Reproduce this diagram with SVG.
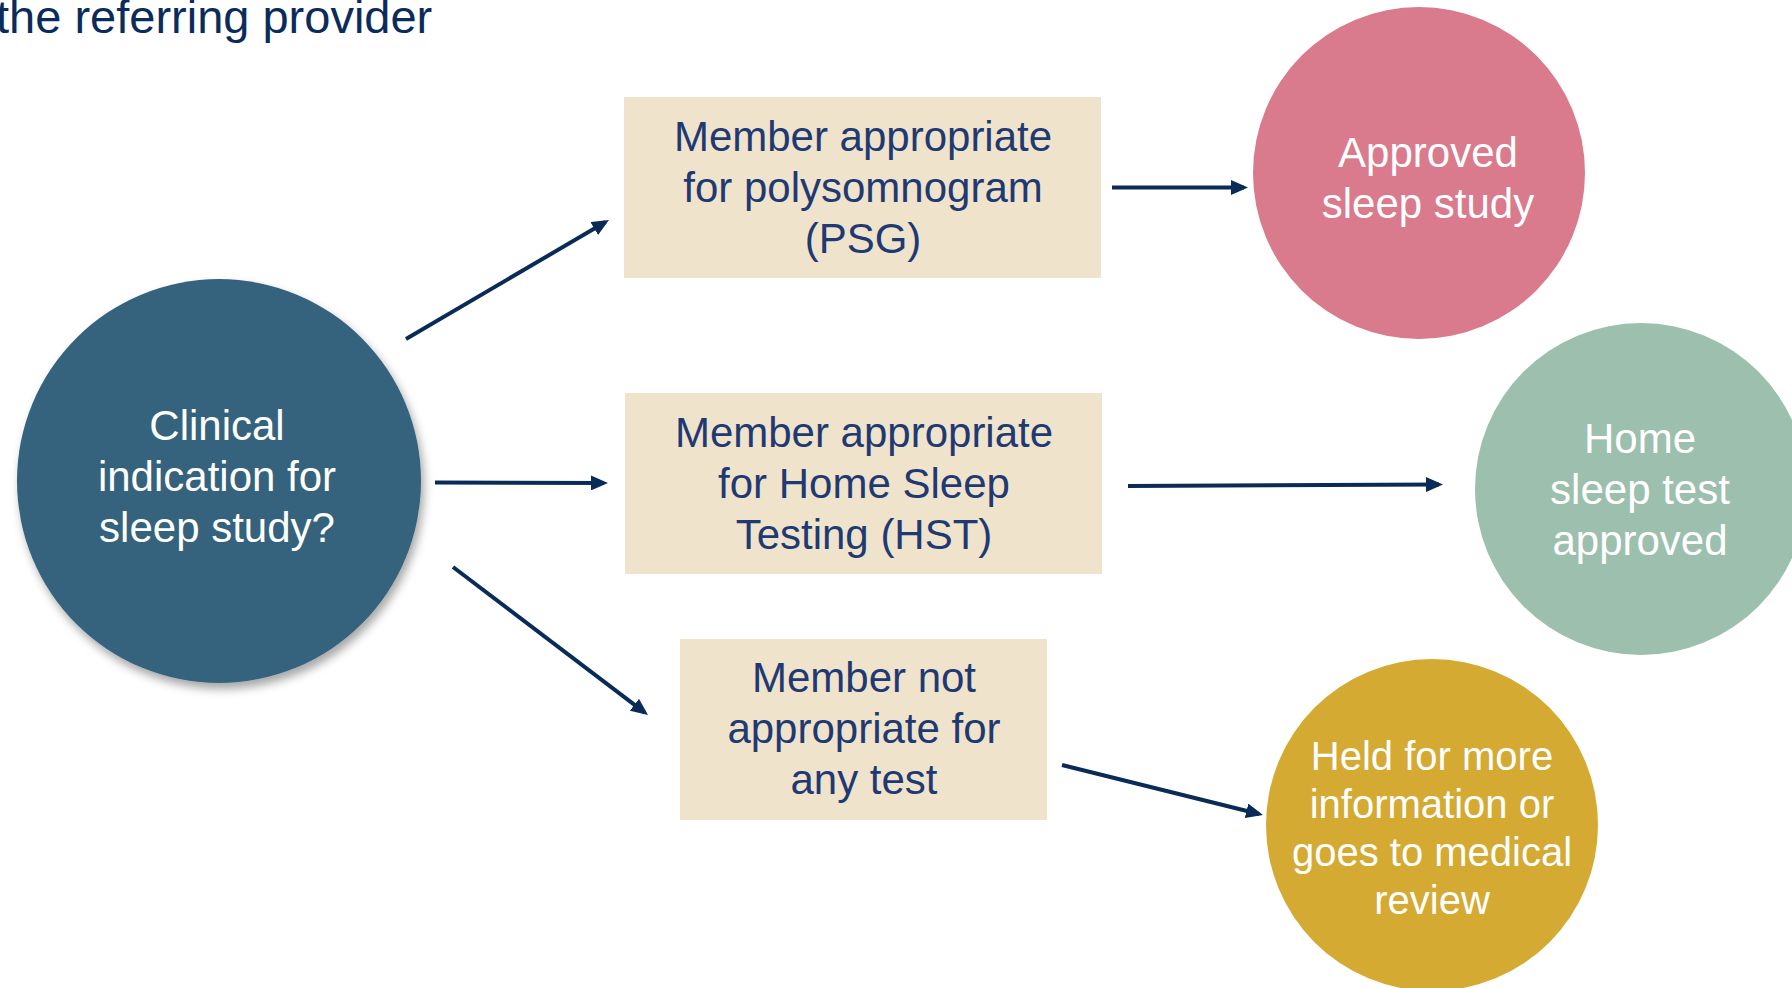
<svg xmlns="http://www.w3.org/2000/svg" width="1792" height="988" viewBox="0 0 1792 988">
<style>
.box{fill:#F0E3CC}
.bt{font-family:"Liberation Sans",Arial,sans-serif;font-size:42px;fill:#1F3A72;text-anchor:middle}
.ct{font-family:"Liberation Sans",Arial,sans-serif;font-size:42px;fill:#FFFFFF;text-anchor:middle}
.ct40{font-family:"Liberation Sans",Arial,sans-serif;font-size:40px;fill:#FFFFFF;text-anchor:middle}
.conn{stroke:#0A2B57;stroke-width:4;fill:none;marker-end:url(#ah)}
</style>
<defs>
<marker id="ah" markerUnits="userSpaceOnUse" markerWidth="17" markerHeight="15" refX="13" refY="7.5" orient="auto">
<path d="M0,0 L17,7.5 L0,15 z" fill="#0A2B57"/>
</marker>
<filter id="sh" x="-20%" y="-20%" width="140%" height="140%">
<feDropShadow dx="3" dy="6" stdDeviation="5" flood-color="#000" flood-opacity="0.35"/>
</filter>
</defs>
<rect width="1792" height="988" fill="#FFFFFF"/>
<text x="-4" y="33" font-family="'Liberation Sans',Arial,sans-serif" font-size="47" fill="#0B2C5A">the referring provider</text>

<g id="connectors">
<line class="conn" x1="406" y1="339" x2="605.5" y2="222"/>
<line class="conn" x1="435" y1="482.5" x2="604" y2="483"/>
<line class="conn" x1="453" y1="567" x2="644.8" y2="712.6"/>
<line class="conn" x1="1112" y1="187.5" x2="1244" y2="187.5"/>
<line class="conn" x1="1128" y1="486" x2="1439" y2="484.5"/>
<line class="conn" x1="1062" y1="765" x2="1259.1" y2="814"/>
</g>

<g id="start">
<circle cx="219" cy="481" r="202" fill="#35637E" filter="url(#sh)"/>
<text class="ct"><tspan x="217" y="440">Clinical</tspan><tspan x="217" y="491">indication for</tspan><tspan x="217" y="542">sleep study?</tspan></text>
</g>

<g id="psg">
<rect class="box" x="624" y="97" width="477" height="181"/>
<text class="bt"><tspan x="863" y="151">Member appropriate</tspan><tspan x="863" y="202">for polysomnogram</tspan><tspan x="863" y="253">(PSG)</tspan></text>
</g>

<g id="hst">
<rect class="box" x="625" y="393" width="477" height="181"/>
<text class="bt"><tspan x="864" y="447">Member appropriate</tspan><tspan x="864" y="498">for Home Sleep</tspan><tspan x="864" y="549">Testing (HST)</tspan></text>
</g>

<g id="none">
<rect class="box" x="680" y="639" width="367" height="181"/>
<text class="bt"><tspan x="864" y="692">Member not</tspan><tspan x="864" y="743">appropriate for</tspan><tspan x="864" y="794">any test</tspan></text>
</g>

<g id="approved">
<circle cx="1419" cy="173" r="166" fill="#D97A8D"/>
<text class="ct"><tspan x="1428" y="167">Approved</tspan><tspan x="1428" y="218">sleep study</tspan></text>
</g>

<g id="home">
<circle cx="1641" cy="489" r="166" fill="#9DBFAE"/>
<text class="ct"><tspan x="1640" y="453">Home</tspan><tspan x="1640" y="504">sleep test</tspan><tspan x="1640" y="555">approved</tspan></text>
</g>

<g id="held">
<circle cx="1432" cy="825" r="166" fill="#D4AA33"/>
<text class="ct40"><tspan x="1432" y="770">Held for more</tspan><tspan x="1432" y="818">information or</tspan><tspan x="1432" y="866">goes to medical</tspan><tspan x="1432" y="914">review</tspan></text>
</g>
</svg>
